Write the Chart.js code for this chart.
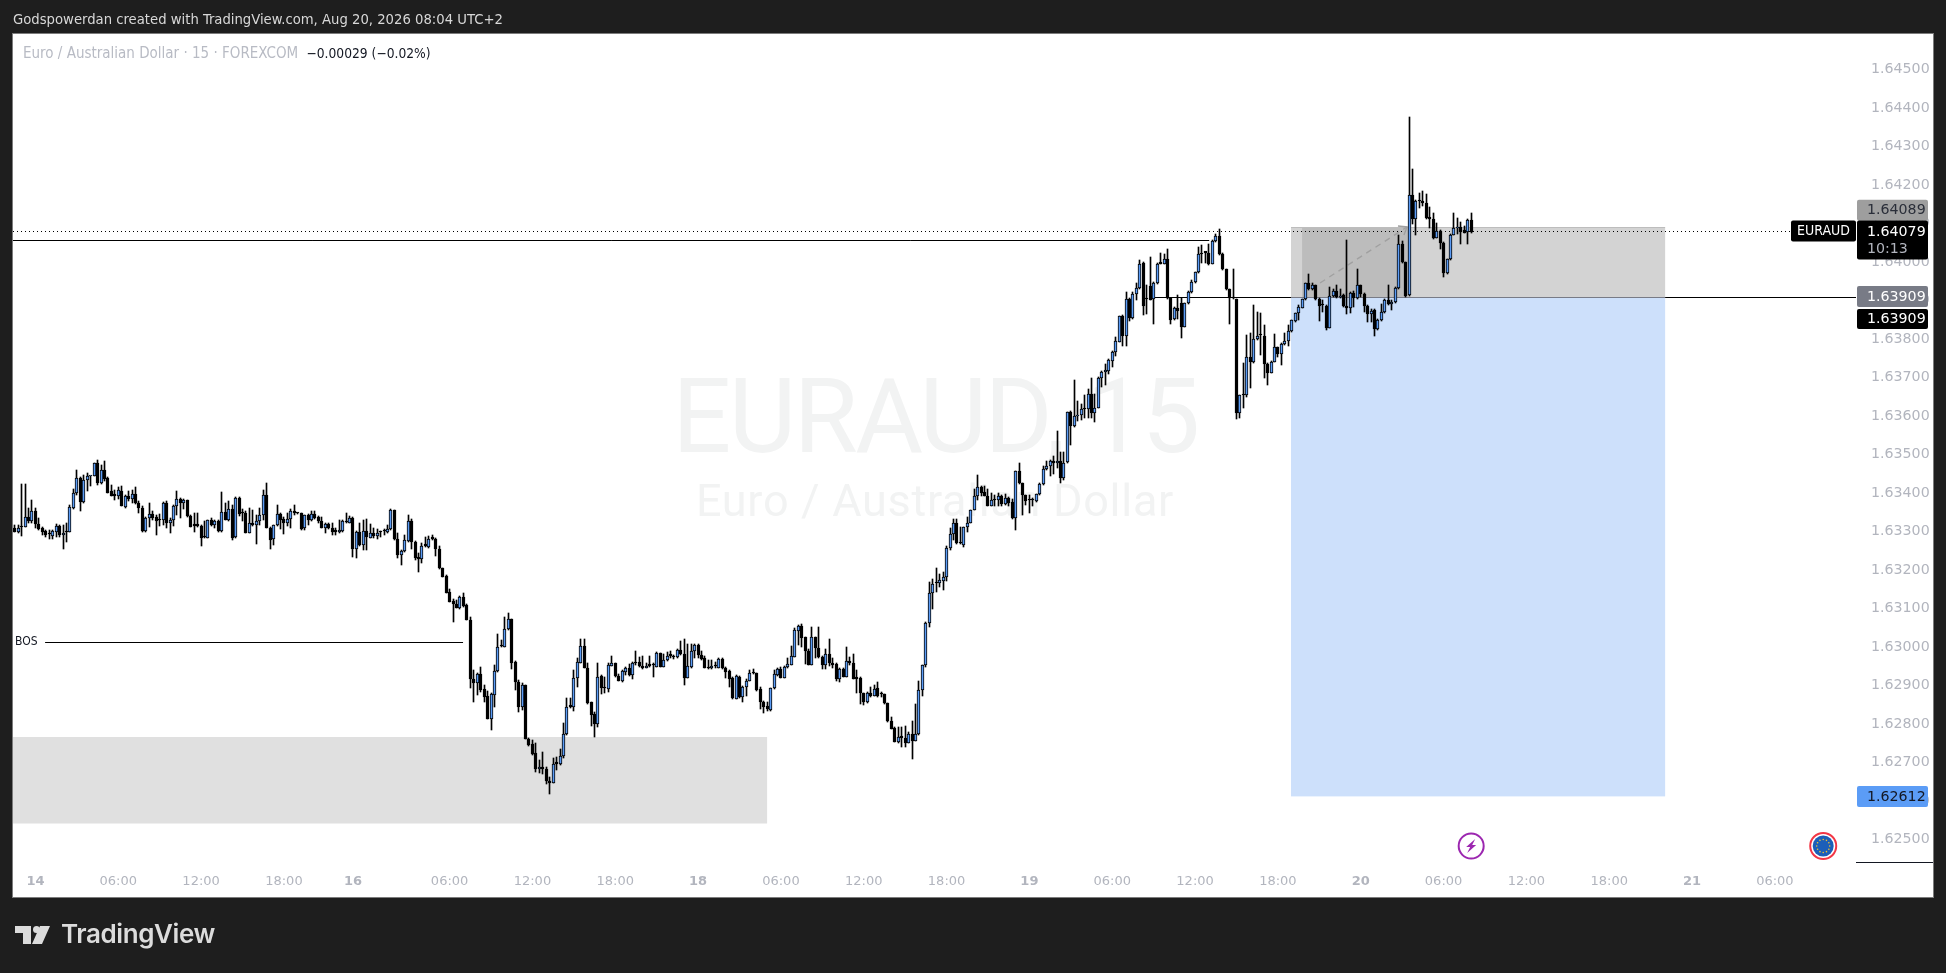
<!DOCTYPE html>
<html>
<head>
<meta charset="utf-8">
<title>EURAUD 15</title>
<script src="https://cdn.jsdelivr.net/npm/chart.js@4"></script>
<style>
html,body{margin:0;padding:0;background:#1e1e1e;width:1946px;height:973px;overflow:hidden;}
#panel{position:absolute;left:13px;top:34px;width:1920px;height:863px;background:#fff;outline:1px solid #7c7c7c;}
#myChart{position:absolute;left:0;top:0;}
#head{position:absolute;left:13px;top:10px;color:#d8d8d8;font:14.7px "DejaVu Sans Condensed","DejaVu Sans";white-space:nowrap;}
#legend{position:absolute;left:23px;top:44px;font:15px "DejaVu Sans Condensed","DejaVu Sans";color:#b8bbc4;white-space:nowrap;}
#legend b{font-weight:normal;font-size:13.7px;color:#131722;margin-left:4px;}
#logo{position:absolute;left:15px;top:926px;}
#logoText{position:absolute;left:61px;top:918px;color:#dcdcdc;font:600 26px Inter,"Open Sans";letter-spacing:-.4px;}
</style>
</head>
<body>
<div id="panel"></div>
<canvas id="myChart" width="1946" height="973"></canvas>
<div id="head">Godspowerdan created with TradingView.com, Aug 20, 2026 08:04 UTC+2</div>
<div id="legend">Euro / Australian Dollar · 15 · FOREXCOM <b>−0.00029 (−0.02%)</b></div>
<svg id="logo" width="40" height="19" viewBox="0 0 40 19"><path fill="#dcdcdc" d="M0 0H16V18H8V7H0ZM25 0H35L27 18H17Z"/><circle fill="#dcdcdc" cx="21.5" cy="3.6" r="3.5"/></svg>
<div id="logoText">TradingView</div>
<script>
// prices are in 1/100000 (pipettes), one entry per 15 minute candle
const opens = [
163309,163300,163311,163311,163337,163328,163354,163319,163309,163302,
163293,163289,163300,163315,163290,163298,163298,163362,163399,163438,
163376,163434,163443,163443,163477,163427,163460,163438,163404,163393,
163393,163406,163363,163393,163384,163397,163373,163360,163302,163335,
163345,163337,163329,163329,163373,163323,163329,163367,163384,163373,
163381,163340,163315,163315,163315,163285,163284,163329,163316,163328,
163302,163350,163330,163358,163285,163387,163348,163348,163297,163323,
163317,163328,163342,163394,163310,163280,163316,163346,163333,163323,
163332,163354,163348,163348,163308,163342,163329,163346,163338,163326,
163309,163320,163309,163304,163298,163302,163324,163323,163335,163254,
163298,163265,163302,163284,163296,163289,163298,163301,163300,163306,
163356,163280,163238,163249,163276,163328,163273,163233,163228,163263,
163259,163281,163281,163254,163205,163185,163143,163120,163112,163101,
163130,163108,163069,162916,162907,162929,162890,162873,162814,162876,
162937,163002,163001,163046,163072,162960,162908,162845,162901,162762,
162747,162724,162683,162689,162684,162653,162648,162697,162697,162718,
162773,162845,162845,162919,162959,163003,162946,162856,162825,162801,
162925,162893,162892,162951,162958,162926,162913,162936,162945,162928,
162958,162960,162951,162946,162951,162952,162949,162984,162949,162965,
162977,162974,162973,162991,162981,162920,162949,162989,163004,162978,
162971,162946,162945,162950,162946,162969,162945,162938,162919,162866,
162923,162869,162897,162913,162932,162932,162890,162858,162847,162836,
162893,162928,162942,162920,162949,162954,162975,163042,163055,163025,
162990,162954,163025,162998,162973,162954,162982,162959,162955,162918,
162943,162923,162963,162958,162918,162919,162880,162857,162881,162874,
162893,162877,162877,162854,162809,162789,162754,162767,162764,162751,
162774,162757,162774,162888,162952,163062,163140,163166,163166,163172,
163183,163257,163293,163322,163270,163266,163311,163323,163355,163391,
163415,163402,163393,163365,163381,163381,163391,163372,163387,163376,
163335,163457,163426,163394,163382,163382,163378,163397,163423,163462,
163470,163483,163477,163483,163439,163480,163610,163573,163599,163603,
163617,163617,163656,163609,163622,163700,163713,163717,163744,163767,
163793,163861,163809,163903,163855,163917,163932,163998,163904,163938,
163903,163945,163996,163996,164009,163906,163851,163880,163893,163832,
163893,163921,163947,163973,164021,164024,164024,163995,164054,164067,
164022,163981,163929,163906,163904,163609,163654,163654,163752,163741,
163799,163810,163808,163735,163712,163741,163778,163762,163786,163796,
163821,163848,163867,163880,163903,163945,163929,163939,163904,163888,
163886,163829,163912,163925,163908,163914,163886,163880,163920,163906,
163939,163917,163886,163864,163876,163825,163850,163869,163902,163891,
163895,163932,164047,164000,163914,164173,164111,164158,164158,164153,
164116,164111,164063,164081,164050,163971,164007,164070,164088,164092,
164082,164077,164109];
const highs = [
163317,163317,163424,163424,163360,163382,163360,163335,163311,163304,
163304,163304,163320,163317,163317,163322,163369,163410,163460,163441,
163447,163451,163445,163479,163486,163473,163482,163441,163421,163408,
163415,163419,163395,163404,163408,163415,163378,163365,163337,163373,
163354,163343,163346,163376,163378,163335,163369,163404,163386,163384,
163382,163343,163349,163349,163317,163328,163330,163335,163330,163330,
163402,163375,163378,163369,163389,163389,163358,163354,163360,163356,
163343,163360,163408,163425,163313,163317,163369,163349,163337,163348,
163359,163369,163349,163349,163343,163346,163354,163352,163341,163337,
163322,163323,163322,163309,163330,163330,163348,163339,163337,163302,
163322,163330,163332,163320,163309,163306,163302,163306,163317,163359,
163356,163296,163252,163291,163343,163332,163276,163244,163270,163287,
163289,163291,163283,163263,163205,163187,163150,163124,163122,163133,
163141,163112,163077,162940,162932,162947,162901,162887,162880,162953,
163034,163018,163077,163089,163074,162964,162914,162906,162901,162763,
162758,162750,162706,162728,162689,162663,162711,162715,162734,162802,
162867,162867,162940,162971,163020,163020,162958,162858,162832,162958,
162927,162923,162958,162977,162959,162930,162939,162947,162956,162962,
162990,162973,162977,162958,162977,162959,162988,162985,162983,162988,
162990,162979,162994,163016,163020,163009,163009,163008,163007,162990,
162977,162966,162966,162962,162971,162971,162947,162940,162923,162927,
162925,162899,162916,162940,162942,162933,162897,162861,162858,162894,
162939,162945,162947,162951,162971,163003,163050,163057,163060,163027,
162994,163051,163027,163051,162977,162996,163022,162971,162958,162945,
162945,163001,162973,162982,162940,162921,162881,162884,162895,162901,
162910,162883,162878,162855,162817,162793,162793,162791,162795,162780,
162809,162852,162912,162954,163064,163170,163176,163206,163190,163194,
163263,163309,163333,163333,163313,163313,163337,163356,163410,163447,
163417,163419,163410,163400,163395,163400,163395,163397,163389,163385,
163458,163477,163427,163395,163395,163387,163398,163425,163469,163483,
163486,163495,163561,163506,163506,163610,163612,163694,163639,163630,
163654,163671,163700,163657,163702,163717,163736,163747,163769,163806,
163861,163862,163921,163906,163923,163945,164005,164001,163940,164014,
163949,163998,164024,164022,164035,163907,163882,163914,163906,163894,
163925,163953,163975,164040,164044,164027,164047,164057,164074,164085,
164024,163983,163931,163981,163905,163654,163737,163810,163815,163888,
163871,163868,163836,163737,163744,163813,163780,163789,163816,163836,
163849,163868,163888,163905,163946,163969,163945,163941,163906,163901,
163888,163936,163931,163940,163929,163917,164057,163923,163925,163981,
163941,163920,163888,163877,163877,163851,163891,163905,163941,163902,
163934,164070,164055,164001,164376,164241,164161,164180,164185,164177,
164142,164127,164101,164082,164053,164009,164072,164127,164115,164105,
164094,164111,164127];
const lows = [
163300,163297,163289,163311,163323,163323,163309,163304,163291,163287,
163280,163280,163287,163287,163254,163274,163298,163359,163395,163354,
163375,163406,163417,163443,163421,163424,163430,163401,163391,163382,
163384,163365,163360,163378,163373,163372,163348,163300,163300,163311,
163330,163291,163315,163317,163309,163297,163315,163343,163336,163359,
163337,163311,163300,163311,163263,163283,163282,163315,163309,163298,
163300,163330,163328,163277,163283,163341,163326,163296,163297,163315,
163268,163317,163330,163309,163254,163265,163315,163306,163294,163315,
163310,163343,163346,163304,163304,163317,163328,163332,163322,163309,
163297,163306,163291,163291,163296,163300,163322,163322,163233,163231,
163263,163251,163252,163283,163283,163280,163287,163291,163296,163304,
163278,163231,163213,163248,163274,163254,163225,163196,163219,163259,
163257,163278,163237,163203,163181,163140,163116,163064,163101,163100,
163105,163069,162893,162858,162875,162884,162858,162814,162784,162845,
162935,162999,162999,163044,162944,162888,162832,162836,162762,162744,
162719,162676,162672,162670,162644,162617,162648,162680,162693,162711,
162771,162841,162835,162897,162958,162945,162852,162796,162765,162793,
162878,162880,162884,162951,162921,162912,162910,162927,162925,162917,
162953,162947,162942,162945,162947,162923,162947,162947,162947,162964,
162971,162970,162971,162979,162901,162920,162946,162972,162972,162966,
162945,162944,162942,162946,162945,162943,162919,162897,162865,162865,
162868,162858,162873,162911,162930,162887,162838,162829,162835,162835,
162890,162926,162919,162919,162946,162952,162973,163005,163001,162956,
162952,162952,162972,162971,162942,162942,162951,162945,162913,162910,
162921,162921,162953,162916,162880,162851,162849,162855,162871,162873,
162871,162871,162852,162806,162786,162752,162750,162741,162739,162750,
162709,162755,162772,162873,162948,163053,163100,163143,163157,163147,
163172,163252,163277,163268,163268,163261,163300,163322,163355,163381,
163391,163391,163365,163365,163365,163367,163367,163369,163367,163333,
163303,163424,163343,163369,163349,163365,163376,163395,163421,163460,
163445,163450,163465,163427,163434,163477,163525,163571,163588,163589,
163594,163594,163594,163585,163620,163676,163680,163710,163728,163755,
163791,163782,163782,163848,163853,163901,163930,163863,163864,163901,
163838,163943,163995,163995,163903,163838,163849,163851,163802,163830,
163891,163920,163945,163972,163998,163998,163992,163994,164053,164018,
163979,163927,163838,163903,163593,163596,163620,163650,163672,163738,
163797,163758,163698,163680,163711,163739,163754,163732,163784,163782,
163819,163845,163849,163880,163901,163927,163927,163901,163848,163871,
163823,163828,163908,163906,163906,163882,163865,163868,163882,163903,
163910,163871,163845,163845,163809,163824,163848,163867,163889,163876,
163893,163930,163998,163908,163912,164099,164071,164140,164146,164111,
164088,164059,164062,164034,163960,163969,164005,164069,164072,164047,
164075,164047,164076];
const closes = [
163300,163309,163311,163337,163328,163354,163319,163306,163298,163291,
163293,163302,163315,163290,163296,163298,163363,163399,163438,163376,
163434,163443,163445,163477,163425,163460,163437,163401,163391,163393,
163408,163365,163393,163384,163397,163373,163360,163302,163335,163345,
163335,163326,163329,163373,163323,163329,163367,163384,163373,163382,
163339,163313,163315,163315,163284,163285,163329,163316,163326,163302,
163350,163330,163358,163283,163387,163346,163348,163297,163323,163317,
163328,163342,163394,163310,163278,163316,163346,163330,163323,163332,
163354,163348,163348,163307,163342,163330,163346,163335,163326,163309,
163320,163308,163300,163298,163303,163326,163324,163335,163254,163298,
163265,163302,163285,163296,163289,163297,163298,163301,163306,163356,
163280,163238,163249,163277,163328,163273,163232,163228,163263,163263,
163281,163281,163254,163205,163183,163141,163118,163111,163101,163130,
163107,163070,162916,162907,162929,162888,162871,162814,162877,162937,
162999,163002,163046,163072,162959,162908,162845,162901,162762,162745,
162722,162683,162689,162682,162653,162648,162695,162697,162718,162773,
162843,162845,162919,162960,163003,162946,162855,162824,162801,162923,
162893,162893,162953,162958,162925,162913,162937,162945,162927,162958,
162958,162951,162945,162951,162951,162952,162984,162949,162965,162977,
162977,162974,162991,162981,162920,162950,162989,163004,162978,162970,
162945,162945,162950,162950,162968,162945,162936,162918,162867,162924,
162869,162897,162913,162932,162932,162888,162858,162845,162838,162893,
162929,162942,162920,162949,162955,162976,163043,163055,163024,162990,
162954,163025,162998,162973,162953,162982,162959,162954,162917,162942,
162923,162963,162958,162917,162918,162880,162857,162881,162874,162892,
162874,162877,162854,162809,162788,162754,162767,162764,162751,162773,
162757,162774,162888,162954,163062,163140,163163,163166,163173,163183,
163257,163293,163322,163269,163270,163311,163323,163355,163391,163415,
163401,163393,163365,163381,163381,163391,163372,163387,163375,163335,
163457,163426,163394,163378,163382,163382,163397,163424,163462,163470,
163483,163477,163483,163439,163479,163610,163573,163599,163603,163617,
163617,163656,163609,163622,163700,163713,163719,163745,163767,163794,
163861,163809,163904,163855,163917,163932,163996,163886,163904,163901,
163945,163996,163996,164009,163906,163849,163880,163874,163832,163893,
163921,163947,163973,164020,164021,164024,163995,164054,164067,164021,
163981,163929,163906,163906,163609,163654,163654,163752,163741,163799,
163809,163810,163735,163712,163741,163778,163762,163786,163796,163821,
163849,163867,163882,163903,163945,163929,163939,163903,163886,163888,
163829,163912,163925,163908,163912,163886,163880,163920,163906,163939,
163917,163886,163864,163873,163825,163850,163869,163902,163891,163895,
163932,164047,164000,163912,164173,164111,164159,164158,164153,164114,
164111,164063,164081,164050,163971,164007,164070,164088,164092,164079,
164076,164108,164079];

// time axis: slot number of each label (weekend gap is closed up)
const slotCount = 534;
const timeSlots  = [6,30,54,78,98,126,150,174,198,222,246,270,294,318,342,366,390,414,438,462,486,510];
const timeLabels = ['14','06:00','12:00','18:00','16','06:00','12:00','18:00','18','06:00','12:00','18:00','19','06:00','12:00','18:00','20','06:00','12:00','18:00','21','06:00'];
const dayLabels  = ['14','16','18','19','20','21'];

const priceTicks = [1.625,1.626,1.627,1.628,1.629,1.63,1.631,1.632,1.633,1.634,1.635,1.636,1.637,1.638,1.639,1.64,1.641,1.642,1.643,1.644,1.645];
const priceMin = 1.624416;
const priceMax = 1.645896;

// drawings, given as slot / price
const stopPrice = 1.64089, entryPrice = 1.63909, targetPrice = 1.62612, lastPrice = 1.64079;
const supplyLinePrice = 1.640564, bosPrice = 1.630122;
const demandTop = 1.627662, demandBottom = 1.625416;

const labels = [];
for(let i=0;i<slotCount;i++) labels.push(i);
const wickData = opens.map((o,i)=>[lows[i]/1e5,highs[i]/1e5]);
const bodyData = opens.map((o,i)=>[o/1e5,closes[i]/1e5]);
const bodyColors = opens.map((o,i)=>closes[i]>o?'#5b9cf6':'#000000');

const MONO = '"DejaVu Sans"';

function zone(c,x,s1,s2,p1,p2,color){
    const l=x.getPixelForValue(s1), r=x.getPixelForValue(s2);
    const y=c.chart.scales.y;
    const t=y.getPixelForValue(p1), b=y.getPixelForValue(p2);
    c.ctx.fillStyle=color;
    c.ctx.fillRect(l,t,r-l,b-t);
}
function hline(c,s1,s2,p,color,dash,w){
    const x=c.chart.scales.x, y=c.chart.scales.y, ctx=c.ctx;
    const py=Math.floor(y.getPixelForValue(p))+.5;
    ctx.save();
    ctx.strokeStyle=color;
    ctx.lineWidth=w||1;
    ctx.setLineDash(dash||[]);
    ctx.beginPath();
    ctx.moveTo(x.getPixelForValue(s1),py);
    ctx.lineTo(x.getPixelForValue(s2),py);
    ctx.stroke();
    ctx.restore();
}
function tag(ctx,l,t,r,b,bg,txt,color,rad){
    ctx.fillStyle=bg;
    ctx.beginPath();
    ctx.roundRect(l,t,r-l,b-t,rad||2);
    ctx.fill();
    if(txt){
        ctx.fillStyle=color;
        ctx.font='14.2px '+MONO;
        ctx.textAlign='left';
        ctx.textBaseline='middle';
        ctx.fillText(txt,l+10,(t+b)/2+.5);
    }
}
// keep candles on whole pixels so they stay crisp like the original
function snapCandles(chart){
    [0,1].forEach(n=>{
        chart.getDatasetMeta(n).data.forEach(el=>{
            if(el.skip) return;
            el.x=Math.floor(el.x)+.5;
            el.y=Math.round(el.y);
            el.base=Math.round(el.base);
            if(el.y===el.base) el.base=el.y+2;
        });
    });
}

const drawings = {
    id:'drawings',
    beforeDatasetsDraw(chart){
        const ctx=chart.ctx, x=chart.scales.x, y=chart.scales.y, c={chart,ctx};
        snapCandles(chart);
        // watermark
        ctx.save();
        ctx.fillStyle='#f2f3f3';
        ctx.textAlign='center';
        ctx.textBaseline='alphabetic';
        ctx.font='104px Roboto';
        ctx.letterSpacing='-2.6px';
        ctx.fillText('EURAUD, 15',935,452);
        ctx.font='45px Roboto';
        ctx.letterSpacing='.7px';
        ctx.fillText('Euro / Australian Dollar',935,516);
        ctx.restore();
        // zones
        zone(c,x,-0.5,218,demandTop,demandBottom,'#e0e0e0');
        zone(c,x,369.8,478.2,entryPrice,targetPrice,'#cde0fb');
        zone(c,x,369.8,478.2,stopPrice,entryPrice,'#d3d3d3');
        zone(c,x,373,403.7,stopPrice,entryPrice,'#bcbcbc');
        hline(c,369.8,478.2,stopPrice,'#bdbdbd');
        hline(c,369.8,478.2,entryPrice,'#787b86');
        // lines
        hline(c,-0.5,346.1,supplyLinePrice,'#000');
        hline(c,329.8,369.8,entryPrice,'#000');
        hline(c,478.2,533.5,entryPrice,'#000');
        hline(c,8.8,129.9,bosPrice,'#000');
        hline(c,-0.5,514.6,lastPrice,'#000',[1,3]);
        // dashed arrow
        const ax=x.getPixelForValue(378.2), ay=y.getPixelForValue(1.639455);
        const bx=x.getPixelForValue(403.4), by=y.getPixelForValue(1.64091);
        ctx.save();
        ctx.strokeStyle='#a0a0a0';
        ctx.lineWidth=1.4;
        ctx.setLineDash([6,5]);
        ctx.beginPath();ctx.moveTo(ax,ay);ctx.lineTo(bx,by);ctx.stroke();
        ctx.setLineDash([]);
        ctx.beginPath();ctx.moveTo(bx-9,by-1);ctx.lineTo(bx,by);ctx.lineTo(bx-3,by+8);ctx.stroke();
        ctx.restore();
        // BOS
        ctx.fillStyle='#131722';
        ctx.font='12px "DejaVu Sans Condensed"';
        ctx.textAlign='left';
        ctx.textBaseline='middle';
        ctx.fillText('BOS',15,y.getPixelForValue(bosPrice));
    },
    afterDraw(chart){
        const ctx=chart.ctx, x=chart.scales.x, y=chart.scales.y, a=chart.chartArea;
        ctx.save();
        // price axis bottom line
        ctx.strokeStyle='#131722';
        ctx.beginPath();ctx.moveTo(a.right,a.bottom+.5);ctx.lineTo(y.right,a.bottom+.5);ctx.stroke();
        // tags on the price axis
        const l=a.right+1, r=a.right+72;
        tag(ctx,l,y.getPixelForValue(stopPrice)-28,r,y.getPixelForValue(stopPrice)-7,'#9e9e9e',stopPrice.toFixed(5),'#2a2e39');
        const ly=y.getPixelForValue(lastPrice);
        tag(ctx,l,ly-11,r,ly+28,'#000');
        ctx.fillStyle='#fff';
        ctx.font='14.2px '+MONO;
        ctx.textBaseline='middle';
        ctx.fillText(lastPrice.toFixed(5),l+10,ly+.5);
        ctx.fillStyle='#b2b5be';
        ctx.fillText('10:13',l+10,ly+18);
        tag(ctx,a.right-65,ly-11,a.right,ly+10,'#000','','');
        ctx.fillStyle='#fff';
        ctx.font='14px "DejaVu Sans Condensed"';
        ctx.textAlign='center';
        ctx.fillText('EURAUD',a.right-32.5,ly);
        const ey=y.getPixelForValue(entryPrice);
        tag(ctx,l,ey-11,r,ey+10,'#787b86',entryPrice.toFixed(5),'#fff');
        tag(ctx,l,ey+12,r,ey+32,'#000',entryPrice.toFixed(5),'#fff');
        const ty=y.getPixelForValue(targetPrice);
        tag(ctx,l,ty-10.5,r,ty+10.5,'#5b9cf6',targetPrice.toFixed(5),'#131722');
        // session break icon
        const iy=a.bottom-16;
        const bx=x.getPixelForValue(422);
        ctx.strokeStyle='#9c27b0';
        ctx.lineWidth=2;
        ctx.beginPath();ctx.arc(bx,iy,12.5,0,Math.PI*2);ctx.stroke();
        ctx.fillStyle='#9c27b0';
        ctx.beginPath();
        ctx.moveTo(bx+4,iy-7);ctx.lineTo(bx-5,iy+1);ctx.lineTo(bx-1,iy+1);ctx.lineTo(bx-4,iy+7);ctx.lineTo(bx+5,iy-1);ctx.lineTo(bx+1,iy-1);
        ctx.closePath();ctx.fill();
        // EU event icon
        const ex=x.getPixelForValue(524);
        ctx.strokeStyle='#f23645';
        ctx.beginPath();ctx.arc(ex,iy,13,0,Math.PI*2);ctx.stroke();
        ctx.fillStyle='#1c5fb8';
        ctx.beginPath();ctx.arc(ex,iy,10.5,0,Math.PI*2);ctx.fill();
        ctx.fillStyle='#f2c230';
        for(let k=0;k<12;k++){
            ctx.beginPath();
            ctx.arc(ex+6.5*Math.cos(k*Math.PI/6),iy+6.5*Math.sin(k*Math.PI/6),.8,0,Math.PI*2);
            ctx.fill();
        }
        ctx.restore();
    }
};

new Chart(document.getElementById('myChart').getContext('2d'),{
    type:'bar',
    data:{
        labels,
        datasets:[
            {label:'body',data:bodyData,backgroundColor:bodyColors,borderColor:'#000',borderWidth:1,borderSkipped:false,barThickness:3,minBarLength:1.4,grouped:false},
            {label:'wick',data:wickData,backgroundColor:'#000',barThickness:1,grouped:false}
        ]
    },
    plugins:[drawings],
    options:{
        responsive:false,
        animation:false,
        layout:{padding:{left:13,right:13,top:35,bottom:76}},
        plugins:{legend:{display:false},tooltip:{enabled:false}},
        scales:{
            x:{
                offset:true,
                grid:{display:false},
                border:{display:false},
                afterFit(ax){ax.height=35;},
                afterBuildTicks(ax){ax.ticks=timeSlots.map(v=>({value:v}));},
                ticks:{
                    autoSkip:false,maxRotation:0,padding:3.5,color:'#b2b5be',
                    callback(v){return timeLabels[timeSlots.indexOf(v)];},
                    font(ctx){
                        const t=ctx.tick?timeLabels[timeSlots.indexOf(ctx.tick.value)]:'';
                        return {family:MONO,size:13,weight:dayLabels.includes(t)?'bold':'normal'};
                    }
                }
            },
            y:{
                position:'right',
                min:priceMin,max:priceMax,
                grid:{display:false},
                border:{display:false},
                afterFit(ax){ax.width=77;},
                afterBuildTicks(ax){ax.ticks=priceTicks.map(v=>({value:v}));},
                ticks:{
                    padding:7,color:'#b2b5be',
                    font:{family:MONO,size:14.2},
                    callback(v){return v.toFixed(5);}
                }
            }
        }
    }
});
</script>
</body>
</html>
